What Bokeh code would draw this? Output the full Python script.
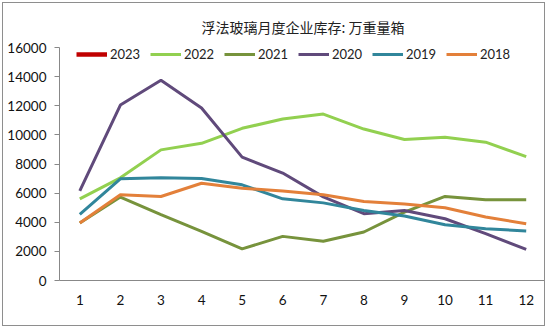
from bokeh.plotting import figure
from bokeh.models import Range1d, FixedTicker, Legend, LegendItem, Title
from bokeh.embed import file_html
from bokeh.resources import INLINE

months = [1, 2, 3, 4, 5, 6, 7, 8, 9, 10, 11, 12]
y_ticks = [0, 2000, 4000, 6000, 8000, 10000, 12000, 14000, 16000]

s2023 = [None]  # no data yet for 2023
s2022 = [5600, 7050, 8970, 9420, 10450, 11090, 11430, 10400, 9680, 9840, 9500, 8510]
s2021 = [3950, 5730, 4520, 3380, 2170, 3030, 2690, 3330, 4700, 5770, 5540, 5540]
s2020 = [6150, 12050, 13750, 11850, 8470, 7380, 5740, 4590, 4810, 4240, 3220, 2140]
s2019 = [4540, 6980, 7050, 7000, 6570, 5610, 5330, 4810, 4430, 3830, 3560, 3400]
s2018 = [3950, 5890, 5770, 6680, 6340, 6140, 5890, 5430, 5250, 5000, 4360, 3900]

series = [
    ("2023", s2023, "#C00000", 4.5),
    ("2022", s2022, "#92D050", 3),
    ("2021", s2021, "#77933C", 3),
    ("2020", s2020, "#604A7B", 3),
    ("2019", s2019, "#31869B", 3),
    ("2018", s2018, "#E3803A", 3),
]

FONT = "Lato"

p = figure(width=543, height=324, output_backend="svg", toolbar_location=None,
           x_range=Range1d(0.5, 12.5), y_range=Range1d(0, 16000),
           min_border_left=56, min_border_right=0, min_border_top=44, min_border_bottom=47)
p.styles = {"border": "1px solid #8e8e8e", "margin-left": "2px", "margin-top": "2px"}
p.outline_line_color = None
p.grid.visible = False
p.background_fill_color = "white"
p.border_fill_color = "white"

items = []
for name, vals, color, lw in series:
    yv = [float("nan") if v is None else v for v in vals]
    r = p.line(months[:len(yv)], yv, line_color=color, line_width=lw)
    items.append(LegendItem(label=name, renderers=[r]))

legend = Legend(items=items, orientation="horizontal", location=(17, 218),
                glyph_width=31, glyph_height=14, label_standoff=3, label_width=40,
                spacing=0, padding=0, margin=0, border_line_color=None,
                background_fill_alpha=0, label_text_font=FONT,
                label_text_font_size="13px", label_text_color="#222222")
p.add_layout(legend)

p.xaxis.ticker = FixedTicker(ticks=months)
p.yaxis.ticker = FixedTicker(ticks=y_ticks)
for ax in (p.xaxis, p.yaxis):
    ax.axis_line_color = "#888888"
    ax.major_tick_line_color = "#888888"
    ax.minor_tick_line_color = None
    ax.major_label_text_font = FONT
    ax.major_label_text_font_size = "13.5px"
    ax.major_label_text_color = "#111111"
p.xaxis.major_tick_out = 0
p.xaxis.major_tick_in = 0
p.xaxis.major_label_standoff = 14
p.yaxis.major_tick_out = 5
p.yaxis.major_tick_in = 0
p.yaxis.major_label_standoff = 8

spacer = Title(text=" ", text_font_size="8px", standoff=0)
p.add_layout(spacer, "above")
t = Title(text="浮法玻璃月度企业库存: 万重量箱", align="center", offset=-41,
          text_font="Noto Sans CJK SC", text_font_size="14px",
          text_font_style="normal", text_color="#222222", standoff=0)
p.add_layout(t, "above")

open("out.html", "w").write(file_html(p, INLINE))
